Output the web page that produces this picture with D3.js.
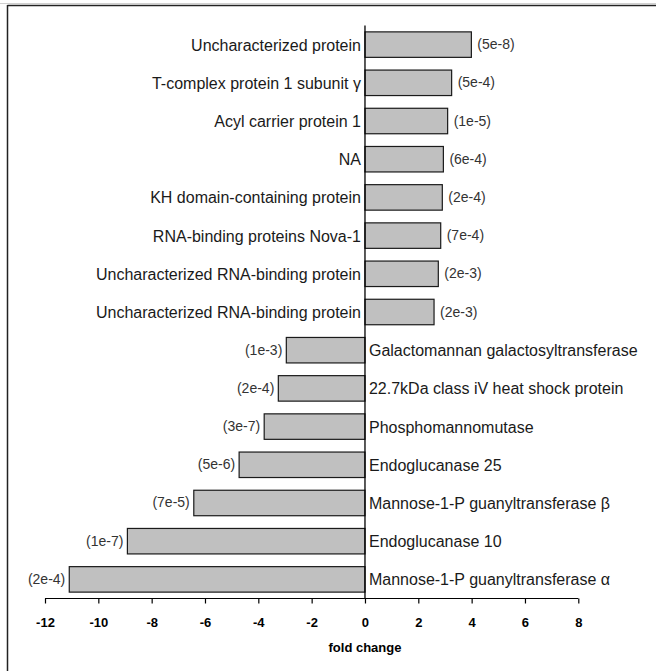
<!DOCTYPE html>
<html>
<head>
<meta charset="utf-8">
<script src="https://cdn.jsdelivr.net/npm/d3@7"></script>
<style>
  body { margin: 0; background: #fff; }
  svg { display: block; font-family: "Liberation Sans", Arial, sans-serif; }
</style>
</head>
<body>
<div id="chart"></div>
<script>
var proteins = [
    "Uncharacterized protein",
    "T-complex protein 1 subunit \u03b3",
    "Acyl carrier protein 1",
    "NA",
    "KH domain-containing protein",
    "RNA-binding proteins Nova-1",
    "Uncharacterized RNA-binding protein",
    "Uncharacterized RNA-binding protein",
    "Galactomannan galactosyltransferase",
    "22.7kDa class iV heat shock protein",
    "Phosphomannomutase",
    "Endoglucanase 25",
    "Mannose-1-P guanyltransferase \u03b2",
    "Endoglucanase 10",
    "Mannose-1-P guanyltransferase \u03b1"
];
var foldChange = [3.99, 3.25, 3.1, 2.94, 2.9, 2.84, 2.75, 2.59,
                  -2.95, -3.25, -3.78, -4.72, -6.42, -8.91, -11.09];
var pValues = ["5e-8", "5e-4", "1e-5", "6e-4", "2e-4", "7e-4", "2e-3", "2e-3",
               "1e-3", "2e-4", "3e-7", "5e-6", "7e-5", "1e-7", "2e-4"];
var xTicks = [-12, -10, -8, -6, -4, -2, 0, 2, 4, 6, 8];

var width = 656,
    height = 671;

var svg = d3.select("#chart").append("svg")
    .attr("width", width)
    .attr("height", height);

// frame (only top and left edges show in the crop)
svg.append("line").attr("x1", 0).attr("x2", width).attr("y1", 3.5).attr("y2", 3.5)
    .attr("stroke", "#d0d0d0").attr("stroke-width", 1);
svg.append("line").attr("x1", 7.5).attr("x2", width).attr("y1", 5.5).attr("y2", 5.5)
    .attr("stroke", "#222").attr("stroke-width", 1.5);
svg.append("line").attr("x1", 7.5).attr("x2", 7.5).attr("y1", 5).attr("y2", height)
    .attr("stroke", "#222").attr("stroke-width", 1.5);

var data = proteins.map(function(name, i) {
    return {name: name, value: foldChange[i], p: pValues[i], key: i};
});

var x = d3.scaleLinear().domain([-12, 8]).range([45, 578.3]);
var y = d3.scaleBand()
    .domain(data.map(function(d) { return d.key; }))
    .range([25.5, 598.5])
    .paddingInner(0.333)
    .paddingOuter(0.167);

// bars
svg.append("g").selectAll("rect")
    .data(data)
    .enter().append("rect")
    .attr("x", function(d) { return x(Math.min(0, d.value)); })
    .attr("y", function(d) { return y(d.key); })
    .attr("width", function(d) { return Math.abs(x(d.value) - x(0)); })
    .attr("height", y.bandwidth())
    .attr("fill", "#c0c0c0")
    .attr("stroke", "#1a1a1a")
    .attr("stroke-width", 1.2);

// zero line
svg.append("line")
    .attr("x1", x(0)).attr("x2", x(0))
    .attr("y1", 25.5).attr("y2", 598.5)
    .attr("stroke", "#000").attr("stroke-width", 1.3);

// category labels
svg.append("g").selectAll("text")
    .data(data)
    .enter().append("text")
    .attr("x", function(d) { return d.value >= 0 ? x(0) - 4 : x(0) + 4; })
    .attr("y", function(d) { return y(d.key) + y.bandwidth() / 2 + 6; })
    .attr("text-anchor", function(d) { return d.value >= 0 ? "end" : "start"; })
    .attr("font-size", 16)
    .attr("fill", "#1a1a1a")
    .text(function(d) { return d.name; });

// p-value labels
svg.append("g").selectAll("text")
    .data(data)
    .enter().append("text")
    .attr("x", function(d) { return d.value >= 0 ? x(d.value) + 6 : x(d.value) - 4; })
    .attr("y", function(d) { return y(d.key) + y.bandwidth() / 2 + 4.5; })
    .attr("text-anchor", function(d) { return d.value >= 0 ? "start" : "end"; })
    .attr("font-size", 14)
    .attr("fill", "#333")
    .text(function(d) { return "(" + d.p + ")"; });

// x axis
var xAxis = svg.append("g")
    .attr("transform", "translate(0,598.5)")
    .call(d3.axisBottom(x).tickValues(xTicks).tickSize(5).tickPadding(14).tickFormat(d3.format("d")));
xAxis.select(".domain").attr("stroke", "#000").attr("stroke-width", 1.2)
    .attr("d", "M" + x(-12) + ",0H" + x(8));
xAxis.selectAll(".tick line").attr("stroke", "#000").attr("stroke-width", 1.2);
xAxis.selectAll(".tick text")
    .attr("font-size", 13)
    .attr("font-weight", "bold")
    .attr("font-family", "Liberation Sans, Arial, sans-serif")
    .attr("fill", "#000")
    .text(function(d) { return d < 0 ? "-" + Math.abs(d) : d; });

svg.append("text")
    .attr("x", x(0))
    .attr("y", 652)
    .attr("text-anchor", "middle")
    .attr("font-size", 13)
    .attr("font-weight", "bold")
    .text("fold change");
</script>
</body>
</html>
